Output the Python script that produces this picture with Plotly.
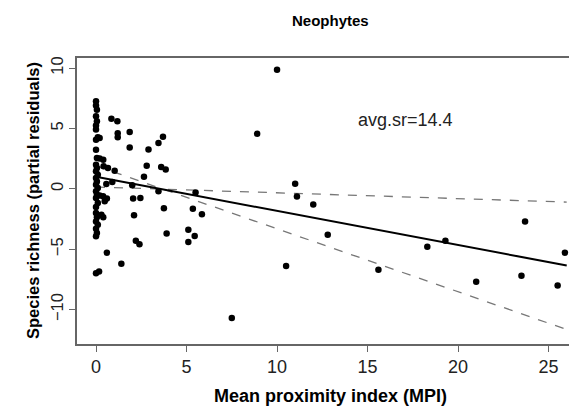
import plotly.graph_objects as go

# Partial residuals
# dense column at MPI ~ 0
col_x = [0, 0, 0.05, 0, 0.05, 0, 0, 0.1, 0, 0, 0.05, 0, 0.05, 0, 0.1, 0,
         0.05, 0, 0.1, 0, 0.05, 0, 0.1, 0, 0, 0.05, 0, 0.1, 0, 0.05, 0, 0]
col_y = [7.25, 6.9, 6.55, 6.0, 5.6, 5.25, 4.9, 4.26, 4.07, 3.24, 2.55, 2.0, 1.72, 1.45,
         1.17, 0.9, 0.6, 0.34, 0.07, -0.2, -0.49, -0.76, -1.17, -1.5, -2.0, -2.36,
         -2.7, -2.97, -3.3, -3.66, -3.93, -7.0]

# remaining points
mpi = [0.2, 0.85, 1.18, 1.2, 1.2, 1.86, 1.86, 2.9, 3.45, 3.7, 2.8, 3.6, 3.85, 2.65,
       0.2, 0.4, 0.42, 0.66, 1.03, 0.57, 0.9, 2.0, 3.45, 2.05, 2.45, 0.2, 0.39, 0.48,
       0.6, 3.75, 2.1, 5.35, 5.85, 5.5, 0.3, 0.4, 2.2, 2.4, 3.9, 5.1, 5.45, 5.1, 0.6,
       1.4, 0.17, 10.0, 8.9, 11.0, 11.1, 12.0, 12.8, 10.5, 15.6, 7.5, 23.7, 19.3,
       18.3, 25.9, 21.0, 23.5, 25.5]
resid = [4.2, 5.8, 5.6, 4.6, 4.26, 4.7, 3.43, 3.25, 3.8, 4.3, 1.9, 1.8, 1.6, 1.0,
         2.5, 2.4, 1.86, 1.72, 1.5, 0.4, 0.56, 0.3, -0.2, -0.8, -0.77, -0.55, -0.62,
         -1.03, -0.8, -1.6, -2.2, -1.65, -2.1, -0.3, -2.14, -2.35, -4.3, -4.6, -3.7,
         -3.4, -3.9, -4.4, -5.3, -6.2, -6.85, 9.86, 4.55, 0.41, -0.63, -1.3, -3.8,
         -6.4, -6.7, -10.7, -2.7, -4.3, -4.8, -5.3, -7.7, -7.2, -8.0]

# fitted line and the two dashed lines (end points)
fit_x = [0, 26]
fit_y = [1.0, -6.35]
hi_y = [0.15, -1.1]
lo_y = [1.9, -11.65]

label = "avg.sr=14.4"

fig = go.Figure()
for ys in (hi_y, lo_y):
    fig.add_trace(go.Scatter(x=fit_x, y=ys, mode="lines",
                             line=dict(color="#777777", width=1.3, dash="dash"),
                             showlegend=False))
fig.add_trace(go.Scatter(x=fit_x, y=fit_y, mode="lines",
                         line=dict(color="black", width=2), showlegend=False))
fig.add_trace(go.Scatter(x=col_x + mpi, y=col_y + resid, mode="markers",
                         marker=dict(color="black", size=6.5), showlegend=False))

fig.add_annotation(x=17.1, y=5.7, text=label, showarrow=False,
                   font=dict(size=18, color="#222222"))

# titles as annotations so they sit where R put them
fig.add_annotation(xref="paper", yref="paper", x=0.5, y=1, yanchor="middle", yshift=38,
                   text="<b>Neophytes</b>", showarrow=False,
                   font=dict(size=15, color="black"))
fig.add_annotation(xref="paper", yref="paper", x=0.5, y=0, yanchor="middle", yshift=-52,
                   text="<b>Mean proximity index (MPI)</b>", showarrow=False,
                   font=dict(size=18, color="black"))
fig.add_annotation(xref="paper", yref="paper", x=0, y=0.5, xanchor="center", xshift=-44,
                   text="<b>Species richness (partial residuals)</b>", showarrow=False,
                   textangle=-90, font=dict(size=16.5, color="black"))

axis_style = dict(showgrid=False, zeroline=False, showline=True, mirror=True,
                  linecolor="#666666", linewidth=1.5, ticks="outside",
                  ticklen=6, tickcolor="#666666", automargin=False)

fig.update_xaxes(range=[-1.05, 26.9], tickvals=[0, 5, 10, 15, 20, 25],
                 tickfont=dict(size=18, color="#222222"), **axis_style)
fig.update_yaxes(range=[-12.85, 10.83], tickvals=[-10, -5, 0, 5, 10], tickangle=-90,
                 tickfont=dict(size=16.5, color="#222222"), **axis_style)

fig.update_layout(width=577, height=408, margin=dict(l=69, r=2, t=50, b=72),
                  plot_bgcolor="white", paper_bgcolor="white",
                  font=dict(family="Liberation Sans, Arial, sans-serif"))

fig.write_html("out.html")
